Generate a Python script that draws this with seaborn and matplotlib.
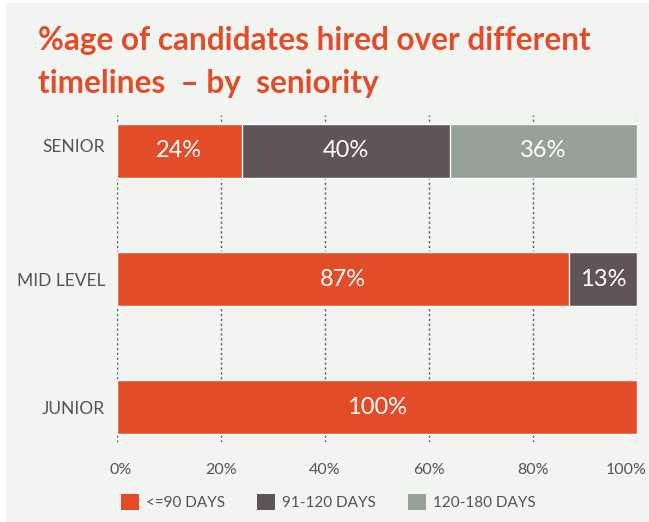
import matplotlib
matplotlib.use("Agg")
import matplotlib.pyplot as plt
from matplotlib.patches import Patch, Rectangle
import matplotlib.transforms as mtransforms
import pandas as pd
import seaborn as sns

# Share of hires per seniority level, split by time-to-hire bucket
levels = ["SENIOR", "MID LEVEL", "JUNIOR"]
upto_90 = [24, 87, 100]
days_91_120 = [40, 13, 0]
days_120_180 = [36, 0, 0]
bucket_names = ["<=90 DAYS", "91-120 DAYS", "120-180 DAYS"]
x_ticks = [0, 20, 40, 60, 80, 100]
x_tick_labels = ["0%", "20%", "40%", "60%", "80%", "100%"]
title_lines = ["%age of candidates hired over different", "timelines  – by  seniority"]

ORANGE = "#e34c28"
DARK = "#5f5457"
SAGE = "#96a198"
BG = "#f2f4f2"
TEXT = "#5a5052"

sns.set_theme(style="white")
plt.rcParams["font.family"] = ["Lato", "DejaVu Sans"]

W, H = 649, 522
fig = plt.figure(figsize=(W / 100, H / 100), dpi=100, facecolor="white")
fig.patches.append(Rectangle((6 / W, 0), 1, 1 - 3 / H, transform=fig.transFigure,
                             facecolor=BG, edgecolor="none", zorder=-10))

ax = fig.add_axes([117 / W, 1 - 442 / H, (637 - 117) / W, (442 - 115) / H])
ax.set_facecolor(BG)

df = pd.DataFrame({"level": levels, "a": upto_90, "b": days_91_120, "c": days_120_180})
df["cum_a"] = df["a"]
df["cum_b"] = df["a"] + df["b"]
df["cum_c"] = df["a"] + df["b"] + df["c"]

# Stack by overlaying cumulative totals, longest first
for col, color in [("cum_c", SAGE), ("cum_b", DARK), ("cum_a", ORANGE)]:
    sns.barplot(data=df, x=col, y="level", orient="h", color=color, width=0.42,
                saturation=1, ax=ax, zorder=3)

# Segment labels
for i, row in df.iterrows():
    left = 0
    for key in ["a", "b", "c"]:
        v = row[key]
        if v > 0:
            ax.text(left + v / 2, i, f"{v}%", ha="center", va="center",
                    color="white", fontsize=17, zorder=5)
        left += v

ax.set_xlim(0, 100)
ax.set_ylim(2.27, -0.28)
ax.set_xticks(x_ticks)
ax.set_xticklabels(x_tick_labels, color=TEXT, fontsize=11.5)
ax.tick_params(axis="x", length=0, pad=15)
ax.tick_params(axis="y", length=0, pad=8.5)
ax.set_yticks(range(len(levels)))
ax.set_yticklabels(levels, color=TEXT, fontsize=12.5)
ax.set_xlabel("")
ax.set_ylabel("")
ax.grid(axis="x", color="#555555", linestyle=(0, (1.5, 2.0)), linewidth=1, zorder=0)
ax.grid(axis="y", visible=False)
ax.set_axisbelow(True)
for s in ax.spines.values():
    s.set_visible(False)

# Keep the end labels inside the canvas
tl = ax.get_xticklabels()
tl[0].set_transform(tl[0].get_transform() + mtransforms.ScaledTranslation(4 / 100, 0, fig.dpi_scale_trans))
tl[-1].set_transform(tl[-1].get_transform() + mtransforms.ScaledTranslation(-11 / 100, 0, fig.dpi_scale_trans))
# Senior label sits slightly above its bar centre
yl = ax.get_yticklabels()
yl[0].set_transform(yl[0].get_transform() + mtransforms.ScaledTranslation(0, 5 / 100, fig.dpi_scale_trans))

for k, line in enumerate(title_lines):
    fig.text(38 / W, 1 - (50 + 43 * k) / H, line, color=ORANGE, fontsize=22.7,
             fontweight="bold", ha="left", va="baseline")

handles = [Patch(facecolor=c, edgecolor="none") for c in (ORANGE, DARK, SAGE)]
fig.legend(handles, bucket_names, loc="center left", bbox_to_anchor=(110 / W, 1 - 502 / H),
           ncol=3, frameon=False, fontsize=11, labelcolor=TEXT, handlelength=1.18,
           handleheight=1.18, handletextpad=0.45, columnspacing=2.1, borderpad=0.2)

fig.savefig("out.png", dpi=100, facecolor=fig.get_facecolor())
